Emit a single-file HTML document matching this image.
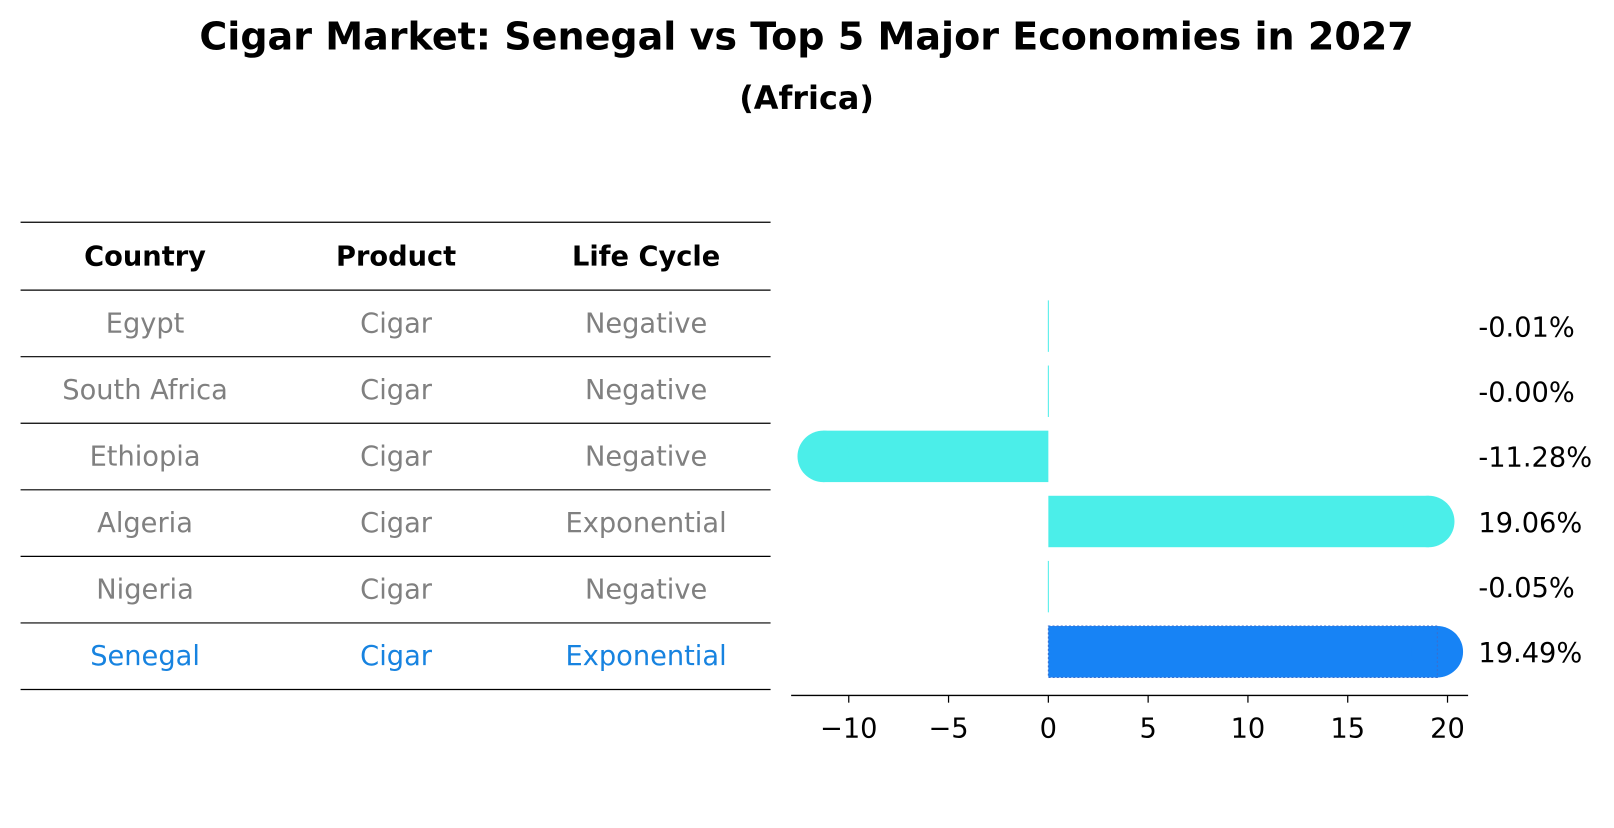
<!DOCTYPE html>
<html><head><meta charset="utf-8"><style>
body{margin:0;background:#fff;font-family:"Liberation Sans","DejaVu Sans",sans-serif}
</style></head><body>
<svg width="1614" height="823" xmlns="http://www.w3.org/2000/svg" font-family="DejaVu Sans, Liberation Sans, sans-serif">
<g transform="scale(1.0288)">
<text x="784" y="48" text-anchor="middle" font-size="37" font-weight="bold">Cigar Market: Senegal vs Top 5 Major Economies in 2027</text>
<text x="784" y="106" text-anchor="middle" font-size="31" font-weight="bold">(Africa)</text>
<g id="table"></g>
<g id="bars"></g>
</g>
</svg>
<script>
const countries=["Egypt","South Africa","Ethiopia","Algeria","Nigeria","Senegal"];
const products=["Cigar","Cigar","Cigar","Cigar","Cigar","Cigar"];
const lifeCycles=["Negative","Negative","Negative","Exponential","Negative","Exponential"];
const values=[-0.01,-0.00,-11.28,19.06,-0.05,19.49];
const valueLabels=["-0.01%","-0.00%","-11.28%","19.06%","-0.05%","19.49%"];
const ticks=[-10,-5,0,5,10,15,20];
const NS="http://www.w3.org/2000/svg";
function mk(tag,attrs,parent,txt){const e=document.createElementNS(NS,tag);for(const k in attrs)e.setAttribute(k,attrs[k]);if(txt!==undefined)e.textContent=txt;parent.appendChild(e);return e;}
const tbl=document.getElementById('table');
const rowY=i=>314+i*64.7;
const cols=[141,385,628];
const FS=26.5;
const lineYs=[216,282];
for(let i=0;i<countries.length;i++)lineYs.push(282+(i+1)*64.7);
lineYs.forEach((y,i)=>{const l=mk('line',{x1:20,x2:749,y1:y,y2:y,stroke:'#000','stroke-width':1.2},tbl);

});
["Country","Product","Life Cycle"].forEach((h,j)=>{const t=mk('text',{x:cols[j],y:258,'text-anchor':'middle','font-size':FS,'font-weight':'bold'},tbl,h);

});
countries.forEach((c,i)=>{const col=i===countries.length-1?'#1783e0':'#808080';
[c,products[i],lifeCycles[i]].forEach((v,j)=>{const t=mk('text',{x:cols[j],y:rowY(i)+9,'text-anchor':'middle','font-size':FS,fill:col},tbl,v);

});});
const bars=document.getElementById('bars');
const x0=1019,scale=19.4;
const X=v=>x0+v*scale;
const by=i=>317+i*63.3;
values.forEach((v,i)=>{const last=i===values.length-1;const color=last?'#1783f5':'#4beee9';
const xe=X(v);const h=50,r=25;const g=mk('g',{},bars);


if(Math.abs(v)<0.5){mk('line',{x1:x0,x2:x0,y1:by(i)-25,y2:by(i)+25,stroke:color,'stroke-width':1},g);}
else{const xl=Math.min(x0,xe),xr=Math.max(x0,xe);
mk('rect',{x:xl,y:by(i)-h/2,width:xr-xl,height:h,fill:color},g);
mk('circle',{cx:xe,cy:by(i),r:r,fill:color},g);
if(last)mk('rect',{x:x0,y:by(i)-h/2,width:xr-x0,height:h,fill:'none',stroke:'#3a6fd0','stroke-dasharray':'2,2','stroke-width':1},g);}
const t=mk('text',{x:1437,y:by(i)+10,'font-size':FS},bars,valueLabels[i]);

});
const ax=mk('line',{x1:769,x2:1427,y1:676,y2:676,stroke:'#000','stroke-width':1.3},bars);


ticks.forEach(tv=>{mk('line',{x1:X(tv),x2:X(tv),y1:676,y2:683,stroke:'#000','stroke-width':1.2},bars);
const t=mk('text',{x:X(tv),y:717,'text-anchor':'middle','font-size':FS},bars,tv<0?'\u2212'+Math.abs(tv):String(tv));

});
</script>
</body></html>
